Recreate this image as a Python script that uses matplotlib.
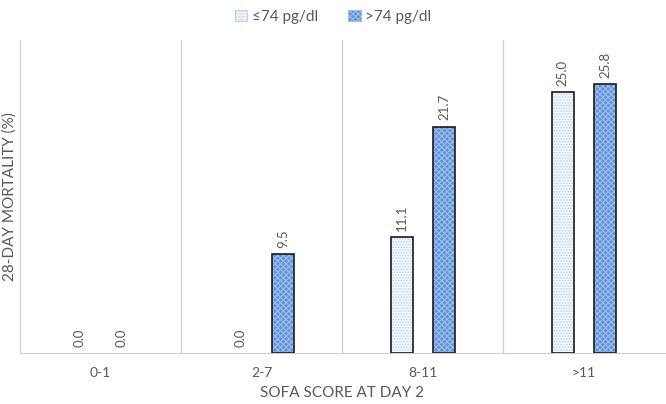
import matplotlib.pyplot as plt
import numpy as np
from matplotlib.patches import Patch

plt.rcParams['font.family'] = ['Lato', 'DejaVu Sans']

# data
categories = ["0-1", "2-7", "8-11", ">11"]
low_vals = [0.0, 0.0, 11.1, 25.0]    # <=74 pg/dl
high_vals = [0.0, 9.5, 21.7, 25.8]   # >74 pg/dl
series_names = ["\u226474 pg/dl", ">74 pg/dl"]

light_face = "#f4f8fe"
light_hatch = "#bcd2f0"
blue_face = "#5f93dc"
blue_hatch = "#9dbdeb"
text_grey = "#595959"

fig = plt.figure(figsize=(6.66, 4.04), dpi=100)
ax = fig.add_axes([0.03, 0.126, 0.968, 0.775])

x = np.arange(len(categories))
w = 0.137
off = 0.132

def draw(xpos, vals, face, hatch_col, hatch):
    with plt.rc_context({'hatch.linewidth': 0.8}):
        ax.bar(xpos, vals, w, color=face, edgecolor=hatch_col, hatch=hatch, linewidth=0, zorder=2)
    # outline only where the bar has height
    nz = [v > 0 for v in vals]
    ax.bar(np.asarray(xpos)[nz], np.asarray(vals)[nz], w, fill=False,
           edgecolor="#1a1a1a", linewidth=1.2, zorder=3)

draw(x - off, low_vals, light_face, light_hatch, "......")
draw(x + off, high_vals, blue_face, blue_hatch, "xxxxxx")

for xi, v in zip(x - off, low_vals):
    ax.text(xi, v + 0.6, f"{v:.1f}", rotation=90, ha="center", va="bottom", fontsize=9.5, color=text_grey)
for xi, v in zip(x + off, high_vals):
    ax.text(xi, v + 0.6, f"{v:.1f}", rotation=90, ha="center", va="bottom", fontsize=9.5, color=text_grey)

ax.set_xlim(-0.5, 3.5)
ax.set_ylim(0, 30)
for b in [-0.5, 0.5, 1.5, 2.5]:
    ax.axvline(b, color="#d0d0d0", linewidth=1, zorder=1)

for s in ["top", "right", "left"]:
    ax.spines[s].set_visible(False)
ax.spines["bottom"].set_color("#d0d0d0")
ax.set_yticks([])
ax.set_xticks(x)
ax.set_xticklabels(categories, fontsize=10, color=text_grey)
ax.tick_params(axis="x", length=0, pad=10)
ax.set_xlabel("SOFA SCORE AT DAY 2", fontsize=11, color=text_grey, labelpad=5)
ax.set_ylabel("28-DAY MORTALITY (%)", fontsize=11, color=text_grey, labelpad=2)

with plt.rc_context({'hatch.linewidth': 0.8}):
    handles = [
        Patch(facecolor=light_face, edgecolor=light_hatch, hatch="......", linewidth=0.8),
        Patch(facecolor=blue_face, edgecolor=blue_hatch, hatch="xxxxxx", linewidth=0.8),
    ]
    fig.legend(handles, series_names, loc="upper center", bbox_to_anchor=(0.5, 1.01), ncol=2,
               frameon=False, fontsize=11, handlelength=0.8, handleheight=0.8,
               handletextpad=0.3, columnspacing=2.0, labelcolor=text_grey)

fig.savefig("out.png", dpi=100)
